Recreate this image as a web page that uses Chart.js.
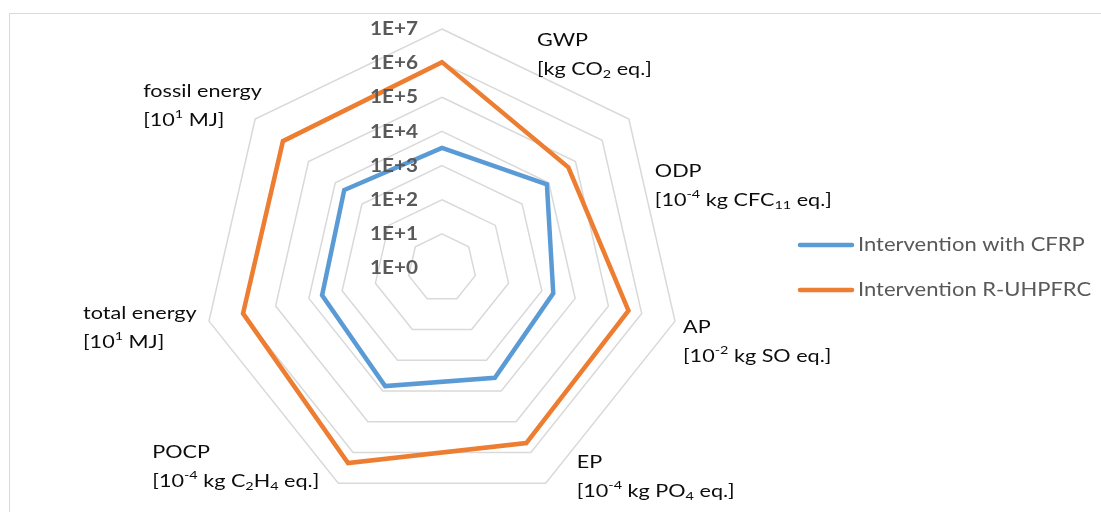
<!DOCTYPE html>
<html>
<head>
<meta charset="utf-8">
<script src="https://cdn.jsdelivr.net/npm/chart.js@4/dist/chart.umd.min.js"></script>
<style>
  html, body { margin: 0; padding: 0; background: #fff; overflow: hidden; }
  #wrap { width: 1101px; height: 512px; position: relative; }
</style>
</head>
<body>
<div id="wrap"><canvas id="c" width="1101" height="512"></canvas></div>
<script>
// Impact categories (clockwise from the top)
const categories = ['GWP', 'ODP', 'AP', 'EP', 'POCP', 'total energy', 'fossil energy'];

// Unit lines, as runs of [text, style] where style is '', 'sub' or 'sup'
const unitLines = [
  [['[kg CO', ''], ['2', 'sub'], [' eq.]', '']],
  [['[10', ''], ['-4', 'sup'], [' kg CFC', ''], ['11', 'sub'], [' eq.]', '']],
  [['[10', ''], ['-2', 'sup'], [' kg SO eq.]', '']],
  [['[10', ''], ['-4', 'sup'], [' kg PO', ''], ['4', 'sub'], [' eq.]', '']],
  [['[10', ''], ['-4', 'sup'], [' kg C', ''], ['2', 'sub'], ['H', ''], ['4', 'sub'], [' eq.]', '']],
  [['[10', ''], ['1', 'sup'], [' MJ]', '']],
  [['[10', ''], ['1', 'sup'], [' MJ]', '']]
];

const seriesNames = ['Intervention with CFRP', 'Intervention R-UHPFRC'];
const seriesColors = ['#5B9BD5', '#ED7D31'];

// Impact values in the units shown on each axis
const cfrpValues   = [3.3e3, 8.5e3, 2.2e3, 3.7e3, 6.9e3, 4.0e3, 4.6e3];
const uhpfrcValues = [1.07e6, 5.4e4, 4.0e5, 4.9e5, 2.2e6, 9.5e5, 9.1e5];

// Logarithmic rings: 1E+0 ... 1E+7
const tickExponents = [0, 1, 2, 3, 4, 5, 6, 7];
const tickLabels = tickExponents.map(e => '1E+' + e);

// Text block offsets from the outer vertex of each axis (left edge, first line centre)
const labelOffsets = [[95, 11], [26, 52], [8, 6], [31, -21], [-186, -31], [-126, -8], [-112, -28]];

const LABEL_FONT = 'Lato, "Open Sans", sans-serif';
const LABEL_SIZE = 18;
const LABEL_STRETCH = 1.2;
const LINE_GAP = 29;

// fillText with a horizontal stretch; returns the advance width
function stretchedText(ctx, txt, x, y, sx) {
  ctx.save();
  ctx.translate(x, y);
  ctx.scale(sx, 1);
  ctx.fillText(txt, 0, 0);
  ctx.restore();
  return ctx.measureText(txt).width * sx;
}

function drawRuns(ctx, runs, x, y, size, color) {
  ctx.fillStyle = color;
  ctx.textBaseline = 'middle';
  ctx.textAlign = 'left';
  let cx = x;
  for (const [txt, style] of runs) {
    let fs = size, dy = 0;
    if (style === 'sub') { fs = Math.round(size * 0.66); dy = 5; }
    if (style === 'sup') { fs = Math.round(size * 0.66); dy = -6; }
    ctx.font = fs + 'px ' + LABEL_FONT;
    cx += stretchedText(ctx, txt, cx, y + dy, LABEL_STRETCH);
  }
}

const frame = {
  id: 'frame',
  beforeDraw(chart) {
    const ctx = chart.ctx;
    ctx.save();
    ctx.strokeStyle = '#d9d9d9';
    ctx.lineWidth = 1;
    ctx.strokeRect(9.5, 13.5, 1200, 600);
    ctx.restore();
  }
};

const annotations = {
  id: 'annotations',
  afterDraw(chart) {
    const ctx = chart.ctx;
    const r = chart.scales.r;
    ctx.save();
    // ring labels along the top axis
    ctx.font = 'bold 19px ' + LABEL_FONT;
    ctx.fillStyle = '#595959';
    ctx.textAlign = 'right';
    ctx.textBaseline = 'middle';
    tickExponents.forEach((e, i) => {
      const p = r.getPointPositionForValue(0, e);
      stretchedText(ctx, tickLabels[i], r.xCenter - 24, p.y, 1.09);
    });
    // axis titles with units
    categories.forEach((name, i) => {
      const v = r.getPointPosition(i, r.drawingArea);
      const x = v.x + labelOffsets[i][0];
      const y = v.y + labelOffsets[i][1];
      drawRuns(ctx, [[name, '']], x, y, LABEL_SIZE, '#0d0d0d');
      drawRuns(ctx, unitLines[i], x, y + LINE_GAP, LABEL_SIZE, '#0d0d0d');
    });
    // legend
    chart.data.datasets.forEach((ds, i) => {
      const y = 245 + i * 45;
      ctx.strokeStyle = ds.borderColor;
      ctx.lineWidth = 4.5;
      ctx.lineCap = 'round';
      ctx.beginPath();
      ctx.moveTo(800, y);
      ctx.lineTo(852, y);
      ctx.stroke();
      ctx.font = '20px ' + LABEL_FONT;
      ctx.fillStyle = '#595959';
      ctx.textAlign = 'left';
      ctx.textBaseline = 'middle';
      stretchedText(ctx, ds.label, 858, y, 1.1);
    });
    ctx.restore();
  }
};

new Chart(document.getElementById('c'), {
  type: 'radar',
  data: {
    labels: categories,
    datasets: [
      { label: seriesNames[0], data: cfrpValues.map(Math.log10), borderColor: seriesColors[0] },
      { label: seriesNames[1], data: uhpfrcValues.map(Math.log10), borderColor: seriesColors[1] }
    ].map(ds => Object.assign(ds, {
      backgroundColor: 'transparent', fill: false, borderWidth: 4.5,
      pointRadius: 0, pointHoverRadius: 0, tension: 0, borderJoinStyle: 'miter'
    }))
  },
  options: {
    responsive: false,
    devicePixelRatio: 1,
    animation: false,
    layout: { padding: { left: 203, right: 420, top: 29, bottom: 5 } },
    plugins: { legend: { display: false }, tooltip: { enabled: false } },
    scales: {
      r: {
        min: 0, max: 7,
        ticks: { display: false, stepSize: 1 },
        grid: { color: '#d9d9d9', lineWidth: 1.5, circular: false },
        angleLines: { display: false },
        pointLabels: { display: false }
      }
    }
  },
  plugins: [frame, annotations]
});
</script>
</body>
</html>
